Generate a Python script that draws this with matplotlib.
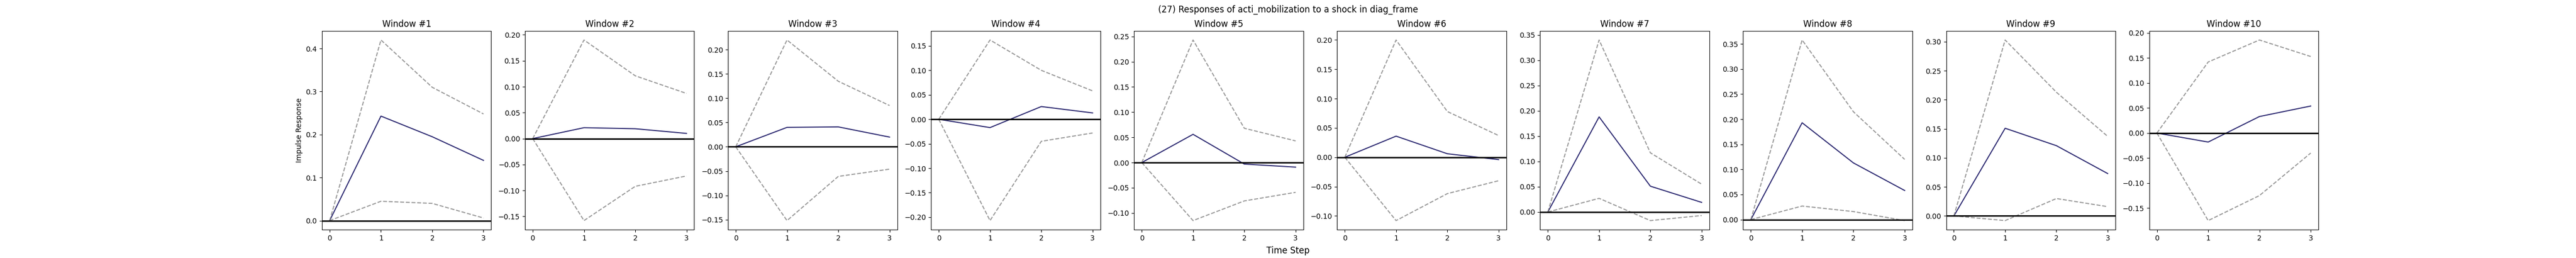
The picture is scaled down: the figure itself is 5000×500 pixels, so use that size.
import matplotlib
matplotlib.use('Agg')
import matplotlib.pyplot as plt

steps = [0, 1, 2, 3]

irf = [
    [0, 0.243, 0.195, 0.140],
    [0, 0.021, 0.019, 0.010],
    [0, 0.040, 0.041, 0.020],
    [0, -0.017, 0.026, 0.013],
    [0, 0.056, -0.003, -0.009],
    [0, 0.036, 0.006, -0.004],
    [0, 0.188, 0.051, 0.019],
    [0, 0.193, 0.113, 0.058],
    [0, 0.151, 0.121, 0.073],
    [0, -0.018, 0.033, 0.054],
]
upper = [
    [0, 0.420, 0.310, 0.248],
    [0, 0.190, 0.121, 0.087],
    [0, 0.220, 0.135, 0.085],
    [0, 0.162, 0.100, 0.058],
    [0, 0.243, 0.068, 0.043],
    [0, 0.200, 0.078, 0.037],
    [0, 0.340, 0.117, 0.055],
    [0, 0.358, 0.215, 0.120],
    [0, 0.303, 0.213, 0.137],
    [0, 0.142, 0.186, 0.153],
]
lower = [
    [0, 0.045, 0.040, 0.006],
    [0, -0.158, -0.092, -0.072],
    [0, -0.152, -0.061, -0.046],
    [0, -0.207, -0.045, -0.028],
    [0, -0.115, -0.076, -0.059],
    [0, -0.108, -0.062, -0.040],
    [0, 0.027, -0.017, -0.007],
    [0, 0.027, 0.016, -0.002],
    [0, -0.008, 0.030, 0.016],
    [0, -0.175, -0.125, -0.040],
]

fig, axes = plt.subplots(1, 10, figsize=(50, 5))
for i, ax in enumerate(axes):
    ax.plot(steps, irf[i], color='#2e2b72', lw=1.5)
    ax.plot(steps, upper[i], color='gray', ls='--', alpha=0.8)
    ax.plot(steps, lower[i], color='gray', ls='--', alpha=0.8)
    ax.axhline(0, color='black', lw=2)
    ax.set_title('Window #%d' % (i + 1))
    ax.set_xticks(steps)
axes[0].set_ylabel('Impulse Response')
fig.suptitle('(27) Responses of acti_mobilization to a shock in diag_frame')
fig.supxlabel('Time Step')
plt.savefig('out.png')
